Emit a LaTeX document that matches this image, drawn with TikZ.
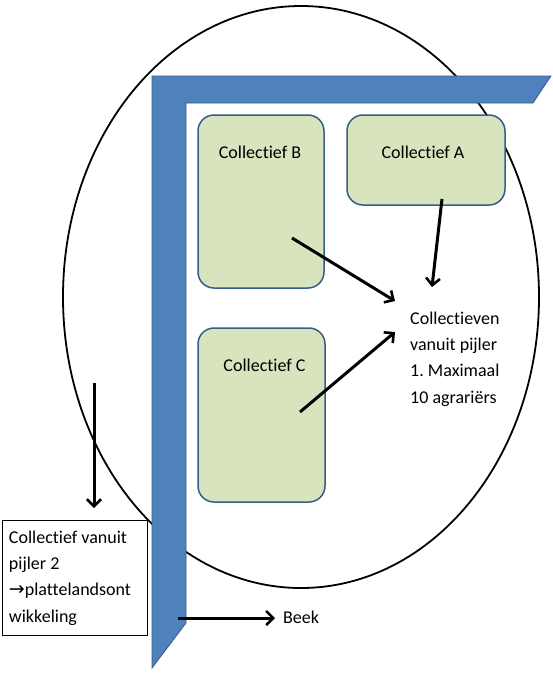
\documentclass[tikz,border=0pt]{standalone}
\usepackage{fontspec}
\setmainfont{Carlito}[Ligatures=NoCommon]
\newfontfamily\arrowfont{DejaVu Sans}
\usetikzlibrary{arrows.meta}
\usetikzlibrary{positioning}

\definecolor{barblue}{HTML}{4F81BD}
\definecolor{barline}{HTML}{385D8A}
\definecolor{boxgreen}{HTML}{D7E4BD}

\begin{document}
\begin{tikzpicture}[x=1pt,y=-1pt]
    \tikzset{
      collbox/.style={
        rectangle,
        rounded corners=16pt,
        fill=boxgreen,
        draw=barline,
        line width=1.5pt,
        inner sep=0pt
      },
      plain/.style={
        font=\fontsize{18}{26.3}\selectfont\frenchspacing,
        align=left,
        inner sep=0pt
      },
      pijl/.style={
        line width=3pt,
        -{Straight Barb[length=7pt,width=14pt,line width=2.6pt]}
      }
    }
    \useasboundingbox (0,0) rectangle (553,681);

    %Field
    \draw[line width=1.8pt] (301,297) ellipse [x radius=238pt, y radius=291pt];

    %Stream along the field
    \fill[barblue,draw=barline,line width=0.8pt]
      (152,76) -- (551,76) -- (533,103) -- (186,103) -- (186,623) -- (152,668) -- cycle;

    %Collective B
    \node[collbox,minimum width=126pt,minimum height=173pt] at (261,201.5) (colB) {};
    \node[plain] at ([xshift=-1pt,yshift=-38pt]colB.north) (colBtxt) {Collectief B};
    %Collective A
    \node[collbox,minimum width=158pt,minimum height=90pt] at (426,160) (colA) {};
    \node[plain] at ([xshift=-3pt,yshift=-38pt]colA.north) (colAtxt) {Collectief A};
    %Collective C
    \node[collbox,minimum width=127pt,minimum height=174pt] at (261.5,415) (colC) {};
    \node[plain] at ([xshift=3pt,yshift=-38pt]colC.north) (colCtxt) {Collectief C};

    %Pillar 1 text
    \node[plain,anchor=west] at (410,359) (pijler1)
      {Collectieven\\vanuit pijler\\1. Maximaal\\10 agrariërs};

    %Pillar 2 box
    \node[plain,align=flush left,draw,line width=0.8pt,fill=white,text width=131pt,
          inner xsep=7pt,minimum height=115pt]
      at (74.5,578) (pijler2)
      {Collectief vanuit\\pijler 2\\{\arrowfont\fontsize{19}{26}\selectfont →}plattelandsont\\wikkeling};

    %Beek label
    \node[plain,anchor=west] at (283,617) (beek) {Beek};

    %Arrow ends
    \coordinate (fromB) at (292,238);
    \coordinate (toB) at (395,301);
    \coordinate (fromA) at (442,199);
    \coordinate (toA) at (432,287);
    \coordinate (fromC) at (300,412);
    \coordinate (toC) at (395,332);
    \coordinate (fromTop) at (94,383);
    \coordinate (toP2) at (94,508);
    \coordinate (fromBar) at (178,618);

    \draw[pijl] (fromB) -- (toB);
    \draw[pijl] (fromA) -- (toA);
    \draw[pijl] (fromC) -- (toC);
    \draw[pijl] (fromTop) -- (toP2);
    \draw[pijl] (fromBar) -- ([xshift=-8pt]beek.west |- fromBar);
\end{tikzpicture}
\end{document}
